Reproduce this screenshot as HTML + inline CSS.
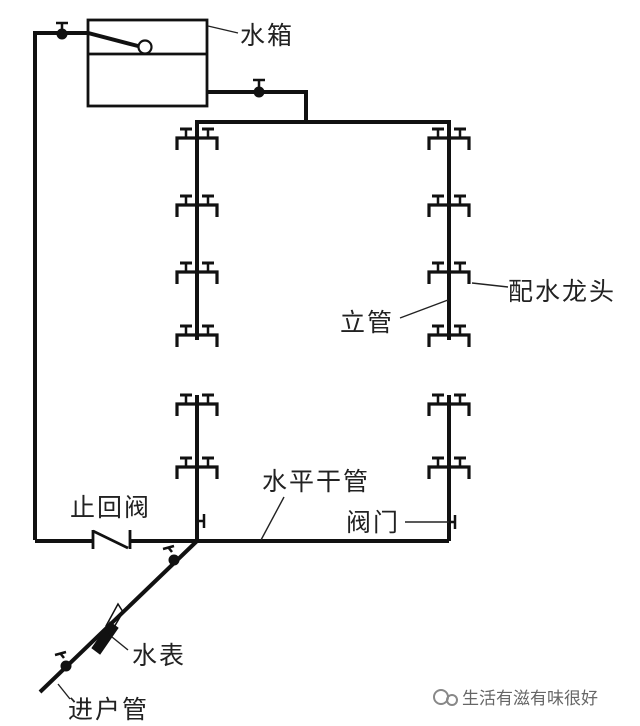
<!DOCTYPE html>
<html><head><meta charset="utf-8"><style>
html,body{margin:0;padding:0;background:#fff;}
svg{display:block;}
text{font-family:"Liberation Sans","Noto Sans CJK SC",sans-serif;font-size:25px;fill:#222;letter-spacing:2px;}
</style></head><body>
<svg width="640" height="726" viewBox="0 0 640 726" xmlns="http://www.w3.org/2000/svg">
<defs>
<g id="f" stroke="#111" fill="none">
<path d="M-20,12 V0 H20 V12" stroke-width="3.2"/>
<path d="M-11,0 V-9 M11,0 V-9" stroke-width="2.5"/>
<path d="M-17,-9 H-5 M5,-9 H17" stroke-width="3"/>
</g>
</defs>
<g stroke="#111" fill="none" stroke-width="4">
<rect x="88" y="20" width="119" height="86" stroke-width="2.8"/>
<line x1="88" y1="54" x2="207" y2="54" stroke-width="2.8"/>
<path d="M35,540 V33 H88 L138,46"/>
<circle cx="145" cy="47" r="6.5" stroke-width="2.2" fill="#fff"/>
<path d="M207,92 H306 V122"/>
<path d="M197,340 V122 H306"/>
<path d="M306,122 H449 V340"/>
<path d="M197,395 V541"/>
<path d="M449,395 V541"/>
<path d="M35,541 H93 M130,541 H449"/>
<path d="M93,530 V549 M93,531 L128,548 M130,530 V549" stroke-width="2.8"/>
<path d="M197,541 L40,692"/>
</g>
<g fill="#111" stroke="#111">
<circle cx="62" cy="34" r="5"/><path d="M62,34 V24 M56,23 H68" stroke-width="2.5"/>
<circle cx="259" cy="92" r="5"/><path d="M259,92 V81 M253,80 H265" stroke-width="2.5"/>
<circle cx="174" cy="560" r="5"/><path d="M172,552 L168,547 M163,549 L174,546" stroke-width="2.5" fill="none"/>
<circle cx="66" cy="666" r="5"/><path d="M64,658 L60,653 M55,655 L66,652" stroke-width="2.5" fill="none"/>
<polygon points="92,648 110,622 118,628 100,654"/>
<polygon points="106,626 118,604 123,612 110,634" fill="none" stroke-width="1.5"/>
<path d="M197,521 H204 M204,514 V528" stroke-width="2.5" fill="none"/>
<path d="M449,522 H455 M455,515 V529" stroke-width="2.5" fill="none"/>
</g>
<use href="#f" x="197" y="138"/><use href="#f" x="197" y="205"/><use href="#f" x="197" y="272"/><use href="#f" x="197" y="335"/>
<use href="#f" x="449" y="138"/><use href="#f" x="449" y="205"/><use href="#f" x="449" y="272"/><use href="#f" x="449" y="335"/>
<use href="#f" x="197" y="404"/><use href="#f" x="197" y="467"/>
<use href="#f" x="449" y="404"/><use href="#f" x="449" y="467"/>
<g stroke="#222" stroke-width="1.4" fill="none">
<path d="M208,26 L238,33"/>
<path d="M472,283 L508,287"/>
<path d="M400,318 L448,300"/>
<path d="M284,497 L261,540"/>
<path d="M405,522 L449,522"/>
<path d="M112,637 L128,650"/>
<path d="M58,684 L70,699"/>
</g>
<text x="240" y="44">水箱</text>
<text x="508" y="300">配水龙头</text>
<text x="340" y="331">立管</text>
<text x="262" y="490">水平干管</text>
<text x="70" y="516">止回阀</text>
<text x="346" y="531">阀门</text>
<text x="132" y="664">水表</text>
<text x="68" y="718">进户管</text>
<g fill="#888" stroke="#888">
<circle cx="441" cy="697" r="7" fill="none" stroke-width="2"/><circle cx="452" cy="700" r="5" fill="none" stroke-width="2"/>
</g>
<text x="462" y="704" style="font-size:17px;fill:#666;letter-spacing:0">生活有滋有味很好</text>
</svg>
</body></html>
